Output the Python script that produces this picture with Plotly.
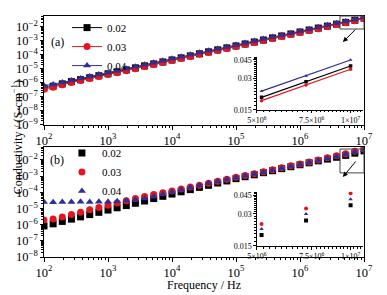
import plotly.graph_objects as go

# ---------------- data ----------------
freq = [100, 138.9, 193.1, 268.3, 372.8, 517.9, 719.7,
        1000, 1389, 1931, 2683, 3728, 5179, 7197,
        1.0e4, 1.389e4, 1.931e4, 2.683e4, 3.728e4, 5.179e4, 7.197e4,
        1.0e5, 1.389e5, 1.931e5, 2.683e5, 3.728e5, 5.179e5, 7.197e5,
        1.0e6, 1.389e6, 1.931e6, 2.683e6, 3.728e6, 5.179e6, 7.197e6,
        1.0e7]

labels = ["0.02", "0.03", "0.04"]

# panel (a)
a_002 = [4.27e-7, 5.69e-7, 8.34e-7, 1.21e-6, 1.66e-6, 2.29e-6, 3.16e-6,
         4.37e-6, 6.02e-6, 8.32e-6, 1.15e-5, 1.59e-5, 2.19e-5, 3.02e-5,
         4.17e-5, 5.89e-5, 8.13e-5, 1.15e-4, 1.58e-4, 2.19e-4, 3.02e-4,
         4.17e-4, 5.75e-4, 7.94e-4, 1.10e-3, 1.55e-3, 2.13e-3, 2.95e-3,
         4.08e-3, 5.63e-3, 7.76e-3, 1.07e-2, 1.48e-2, 0.0198, 0.0279, 0.0394]
a_003 = [3.47e-7, 4.79e-7, 7.10e-7, 1.05e-6, 1.45e-6, 1.99e-6, 2.75e-6,
         3.80e-6, 5.24e-6, 7.24e-6, 1.00e-5, 1.45e-5, 2.00e-5, 2.76e-5,
         3.80e-5, 5.37e-5, 7.42e-5, 1.05e-4, 1.44e-4, 1.99e-4, 2.75e-4,
         3.80e-4, 5.25e-4, 7.24e-4, 1.00e-3, 1.41e-3, 1.95e-3, 2.69e-3,
         3.72e-3, 5.13e-3, 7.07e-3, 1.00e-2, 1.38e-2, 0.0184, 0.0260, 0.0367]
a_004 = [6.03e-7, 7.59e-7, 1.05e-6, 1.45e-6, 2.00e-6, 2.75e-6, 3.80e-6,
         5.25e-6, 7.24e-6, 1.00e-5, 1.38e-5, 1.91e-5, 2.63e-5, 3.63e-5,
         5.01e-5, 7.08e-5, 9.77e-5, 1.35e-4, 1.86e-4, 2.57e-4, 3.55e-4,
         4.90e-4, 6.76e-4, 9.33e-4, 1.29e-3, 1.78e-3, 2.45e-3, 3.39e-3,
         4.68e-3, 6.46e-3, 8.91e-3, 1.23e-2, 1.70e-2, 0.0227, 0.0318, 0.0450]

# panel (b)
b_002 = [8.32e-7, 1.12e-6, 1.58e-6, 2.19e-6, 3.02e-6, 4.17e-6, 5.75e-6,
         7.94e-6, 1.10e-5, 1.51e-5, 2.09e-5, 2.88e-5, 4.07e-5, 5.62e-5,
         7.76e-5, 1.07e-4, 1.45e-4, 2.00e-4, 2.69e-4, 3.72e-4, 5.01e-4,
         6.92e-4, 9.12e-4, 1.20e-3, 1.62e-3, 2.14e-3, 2.88e-3, 3.80e-3,
         5.01e-3, 6.61e-3, 8.71e-3, 1.12e-2, 1.45e-2, 0.0190, 0.0260, 0.0361]
b_003 = [1.91e-6, 2.19e-6, 2.95e-6, 4.17e-6, 5.89e-6, 8.32e-6, 1.15e-5,
         1.58e-5, 2.19e-5, 3.02e-5, 4.07e-5, 5.50e-5, 7.24e-5, 9.33e-5,
         1.20e-4, 1.58e-4, 2.09e-4, 2.75e-4, 3.63e-4, 4.79e-4, 6.31e-4,
         8.32e-4, 1.10e-3, 1.41e-3, 1.86e-3, 2.45e-3, 3.24e-3, 4.27e-3,
         5.62e-3, 7.41e-3, 1.00e-2, 1.35e-2, 1.82e-2, 0.0241, 0.0336, 0.0467]
b_004 = [2.51e-5, 2.45e-5, 2.51e-5, 2.51e-5, 2.57e-5, 2.51e-5, 2.57e-5,
         2.63e-5, 2.82e-5, 3.09e-5, 3.47e-5, 4.17e-5, 5.25e-5, 7.41e-5,
         1.05e-4, 1.45e-4, 1.95e-4, 2.63e-4, 3.55e-4, 4.68e-4, 6.17e-4,
         7.94e-4, 1.05e-3, 1.35e-3, 1.74e-3, 2.29e-3, 3.02e-3, 3.98e-3,
         5.25e-3, 6.92e-3, 9.12e-3, 1.20e-2, 1.58e-2, 0.0216, 0.0300, 0.0412]

inset_xticks = [5e6, 7.5e6, 1e7]
inset_xtext = ["5×10<sup>6</sup>", "7.5×10<sup>6</sup>", "1×10<sup>7</sup>"]
inset_yticks = [0.015, 0.03, 0.045]
inset_ytext = ["0.015", "0.03", "0.045"]

# ---------------- style ----------------
colors = ["#000000", "#e3161f", "#2e2e96"]
symbols = ["square", "circle", "triangle-up"]
FONT = "Liberation Serif"

fig = go.Figure()

ser_a = [a_002, a_003, a_004]
ser_b = [b_002, b_003, b_004]

for lab, ys, c, s in zip(labels, ser_a, colors, symbols):
    fig.add_trace(go.Scatter(x=freq, y=ys, mode="lines+markers", name=lab,
                             line=dict(color=c, width=1),
                             marker=dict(symbol=s, size=7, color=c, line=dict(width=0)),
                             xaxis="x", yaxis="y", legend="legend"))
for lab, ys, c, s in zip(labels, ser_b, colors, symbols):
    fig.add_trace(go.Scatter(x=freq, y=ys, mode="markers", name=lab,
                             marker=dict(symbol=s, size=7, color=c, line=dict(width=0)),
                             xaxis="x2", yaxis="y2", legend="legend2"))
# insets: last three points
for lab, ys, c, s in zip(labels, ser_a, colors, symbols):
    fig.add_trace(go.Scatter(x=freq[-3:], y=ys[-3:], mode="lines+markers", showlegend=False,
                             line=dict(color=c, width=1.2),
                             marker=dict(symbol=s, size=3.5, color=c, line=dict(width=0)),
                             xaxis="x3", yaxis="y3"))
for lab, ys, c, s in zip(labels, ser_b, colors, symbols):
    fig.add_trace(go.Scatter(x=freq[-3:], y=ys[-3:], mode="markers", showlegend=False,
                             marker=dict(symbol=s, size=4, color=c, line=dict(width=0)),
                             xaxis="x4", yaxis="y4"))

main_ax = dict(type="log", dtick=1, exponentformat="power", showexponent="all",
               showline=True, linecolor="black", linewidth=1.3, mirror=True,
               ticks="outside", ticklen=4, tickwidth=1, tickcolor="black",
               minor=dict(ticks="outside", ticklen=2, tickcolor="black", showgrid=False),
               showgrid=False, zeroline=False, automargin=False,
               tickfont=dict(family=FONT, size=10, color="black"))
main_y = dict(main_ax, ticklen=3)
inset_ax = dict(type="log", showline=True, linecolor="black", linewidth=1, mirror=False,
                ticks="outside", ticklen=2.5, tickwidth=1, tickcolor="black",
                showgrid=False, zeroline=False, automargin=False,
                tickfont=dict(family=FONT, size=8, color="black"))

fig.update_layout(
    width=387, height=295,
    margin=dict(l=44, r=23, t=16, b=38, autoexpand=False),
    paper_bgcolor="white", plot_bgcolor="white",
    font=dict(family=FONT, color="black"),
    xaxis=dict(main_ax, domain=[0, 1], anchor="y", range=[2, 7]),
    yaxis=dict(main_y, domain=[0.548, 1], anchor="x", range=[-9, -1.25]),
    xaxis2=dict(main_ax, domain=[0, 1], anchor="y2", range=[2, 7]),
    yaxis2=dict(main_y, domain=[0, 0.456], anchor="x2", range=[-8, -1.21]),
    xaxis3=dict(inset_ax, domain=[0.665, 0.997], anchor="y3", range=[6.699, 7.04],
                tickvals=inset_xticks, ticktext=inset_xtext,
                minor=dict(ticks="outside", ticklen=1.5, tickcolor="black", dtick="L250000")),
    yaxis3=dict(inset_ax, domain=[0.61, 0.83], anchor="x3", range=[-1.824, -1.318],
                tickvals=inset_yticks, ticktext=inset_ytext,
                minor=dict(ticks="outside", ticklen=1.5, tickcolor="black", dtick="L0.0015")),
    xaxis4=dict(inset_ax, domain=[0.665, 0.997], anchor="y4", range=[6.699, 7.04],
                tickvals=inset_xticks, ticktext=inset_xtext,
                minor=dict(ticks="outside", ticklen=1.5, tickcolor="black", dtick="L250000")),
    yaxis4=dict(inset_ax, domain=[0.0456, 0.271], anchor="x4", range=[-1.824, -1.315],
                tickvals=inset_yticks, ticktext=inset_ytext,
                minor=dict(ticks="outside", ticklen=1.5, tickcolor="black", dtick="L0.0015")),
    legend=dict(x=0.072, y=1.012, xanchor="left", yanchor="top", bgcolor="rgba(0,0,0,0)",
                font=dict(family=FONT, size=11), itemwidth=30, tracegroupgap=0),
    legend2=dict(x=0.056, y=0.492, xanchor="left", yanchor="top", bgcolor="rgba(0,0,0,0)",
                 font=dict(family=FONT, size=11), itemwidth=30, tracegroupgap=0),
    showlegend=True,
)

# panel labels
fig.add_annotation(text="(a)", xref="paper", yref="paper", x=0.042, y=0.929,
                   showarrow=False, font=dict(family=FONT, size=12), xanchor="center")
fig.add_annotation(text="(b)", xref="paper", yref="paper", x=0.042, y=0.402,
                   showarrow=False, font=dict(family=FONT, size=12), xanchor="center")

# zoom boxes and arrows
fig.add_shape(type="rect", xref="paper", yref="paper", x0=0.925, x1=1.0, y0=0.946, y1=1.0,
              line=dict(color="#444", width=1))
fig.add_shape(type="rect", xref="paper", yref="paper", x0=0.925, x1=1.0, y0=0.349, y1=0.448,
              line=dict(color="#444", width=1))
fig.add_annotation(x=0.934, y=0.892, xref="paper", yref="paper", ax=14, ay=-14,
                   showarrow=True, arrowhead=2, arrowsize=1, arrowwidth=1, arrowcolor="black", text="")
fig.add_annotation(x=0.934, y=0.332, xref="paper", yref="paper", ax=14, ay=-17,
                   showarrow=True, arrowhead=2, arrowsize=1, arrowwidth=1, arrowcolor="black", text="")

# axis titles
fig.add_annotation(text="Conductivity / (S·cm<sup>−1</sup>)", xref="paper", yref="paper",
                   x=-0.1125, y=0.495, textangle=-90, showarrow=False,
                   font=dict(family=FONT, size=12))
fig.add_annotation(text="Frequency / Hz", xref="paper", yref="paper",
                   x=0.5, y=-0.118, showarrow=False, yanchor="middle",
                   font=dict(family=FONT, size=12))

fig.write_html("out.html", config={"displayModeBar": False},
               post_script="document.body.style.margin='0';")
